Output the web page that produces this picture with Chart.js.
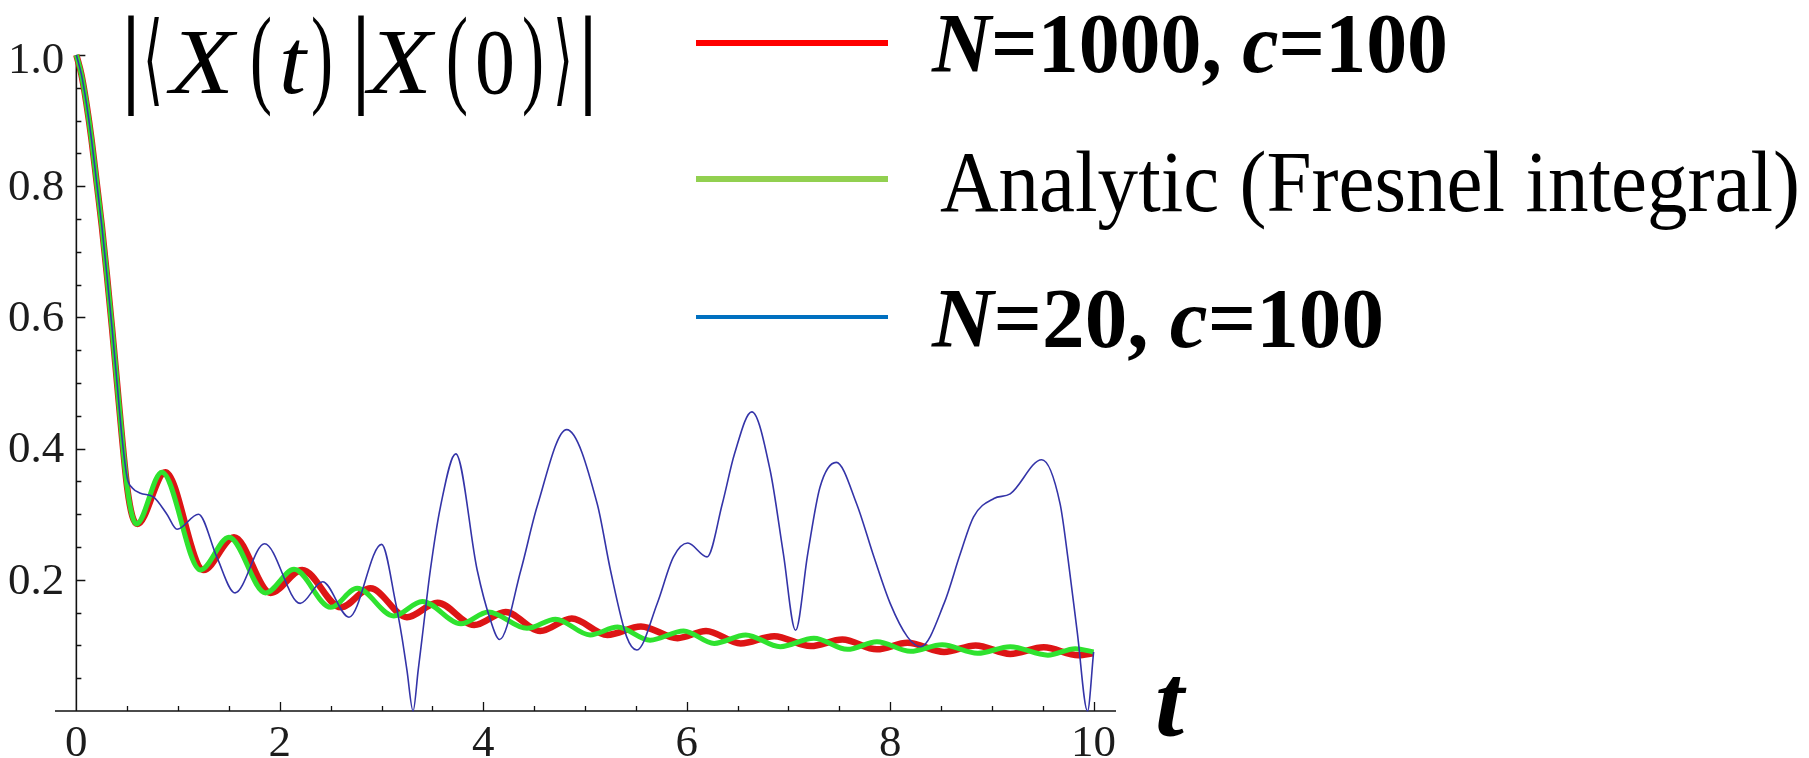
<!DOCTYPE html>
<html>
<head>
<meta charset="utf-8">
<script src="https://cdn.jsdelivr.net/npm/chart.js@4/dist/chart.umd.min.js"></script>
<style>
  html, body { margin: 0; padding: 0; background: #fff; }
  canvas { display: block; }
</style>
</head>
<body>
<canvas id="c" width="1809" height="758"></canvas>
<script>
// Overlap |<X(t)|X(0)>| against time t

// N = 1000, c = 100 (numerical)
const tRed = [0,0.05,0.1,0.15,0.2,0.25,0.3,0.35,0.4,0.45,0.5,0.55,0.60,0.875,1.25,1.55,1.91,2.22,2.60,2.89,3.25,3.55,3.91,4.22,4.56,4.87,5.22,5.55,5.91,6.19,6.53,6.86,7.22,7.53,7.87,8.17,8.53,8.84,9.18,9.51,9.85,10];
const vRed = [1.0,0.97,0.925,0.87,0.805,0.74,0.665,0.585,0.5,0.415,0.34,0.297,0.285,0.364,0.215,0.265,0.18,0.215,0.158,0.187,0.143,0.165,0.131,0.151,0.122,0.141,0.116,0.129,0.111,0.122,0.103,0.114,0.099,0.109,0.094,0.104,0.090,0.100,0.087,0.097,0.085,0.088];

// Analytic result (Fresnel integral)
const tGreen = [0,0.05,0.1,0.15,0.2,0.25,0.3,0.35,0.4,0.45,0.5,0.55,0.59,0.84,1.22,1.50,1.86,2.14,2.50,2.76,3.12,3.40,3.78,4.05,4.43,4.71,5.05,5.32,5.64,5.97,6.27,6.58,6.92,7.25,7.58,7.87,8.20,8.51,8.86,9.18,9.55,9.82,10];
const vGreen = [1.0,0.97,0.925,0.87,0.805,0.74,0.665,0.585,0.5,0.415,0.34,0.297,0.285,0.364,0.215,0.265,0.18,0.216,0.158,0.187,0.145,0.167,0.133,0.151,0.126,0.140,0.116,0.128,0.108,0.122,0.103,0.116,0.098,0.111,0.094,0.1055,0.091,0.101,0.088,0.098,0.085,0.095,0.09];

// N = 20, c = 100 (numerical)
const tBlue = [0,0.05,0.1,0.15,0.2,0.25,0.3,0.35,0.4,0.45,0.5,0.55,0.63,0.76,0.89,0.99,1.20,1.38,1.56,1.85,2.20,2.42,2.68,3.0,3.14,3.20,3.25,3.31,3.36,3.40,3.48,3.58,3.73,3.94,4.07,4.16,4.37,4.53,4.82,5.12,5.25,5.41,5.51,5.71,5.87,6.01,6.20,6.35,6.47,6.64,6.82,6.95,7.07,7.19,7.31,7.47,7.67,7.84,8.0,8.17,8.30,8.53,8.69,8.82,9.02,9.18,9.49,9.67,9.75,9.84,9.94,10];
const vBlue = [1.0,0.97,0.925,0.87,0.805,0.74,0.665,0.585,0.5,0.415,0.355,0.34,0.332,0.326,0.30,0.277,0.30,0.235,0.18,0.255,0.164,0.197,0.143,0.254,0.164,0.113,0.062,0.0,0.062,0.113,0.215,0.312,0.392,0.215,0.139,0.109,0.215,0.312,0.429,0.316,0.215,0.113,0.093,0.164,0.235,0.256,0.235,0.316,0.392,0.456,0.367,0.24,0.123,0.24,0.341,0.379,0.316,0.235,0.164,0.113,0.098,0.164,0.24,0.296,0.324,0.331,0.383,0.316,0.23,0.119,0.0,0.09];

// Axis ticks
const xMajorTicks = [0, 2, 4, 6, 8, 10];
const xTickLabels = ['0', '2', '4', '6', '8', '10'];
const yMajorTicks = [0.2, 0.4, 0.6, 0.8, 1.0];
const yTickLabels = ['0.2', '0.4', '0.6', '0.8', '1.0'];

// Legend entries
const seriesNames = ['N=1000, c=100', 'Analytic (Fresnel integral)', 'N=20, c=100'];

const toPoints = (ts, vs) => ts.map((t, i) => ({ x: t, y: vs[i] }));

const SERIF = '"Liberation Serif", "DejaVu Serif", serif';

// Axes through the origin with inward major/minor ticks
const mathAxes = {
  id: 'mathAxes',
  beforeDatasetsDraw(chart) {
    const { ctx, chartArea, scales: { x, y } } = chart;
    const x0 = x.getPixelForValue(0);
    const y0 = y.getPixelForValue(0);
    ctx.save();
    ctx.strokeStyle = '#111';
    ctx.lineWidth = 1.6;
    ctx.beginPath();
    ctx.moveTo(chartArea.left, y0);
    ctx.lineTo(chartArea.right, y0);
    ctx.moveTo(x0, y0);
    ctx.lineTo(x0, y.getPixelForValue(1));
    ctx.stroke();

    ctx.lineWidth = 1.3;
    ctx.beginPath();
    for (let k = 1; k <= 20; k++) {
      const px = Math.round(x.getPixelForValue(k * 0.5)) + 0.5;
      const len = (k % 4 === 0) ? 9 : 5;
      ctx.moveTo(px, y0);
      ctx.lineTo(px, y0 - len);
    }
    for (let k = 1; k <= 20; k++) {
      const py = Math.round(y.getPixelForValue(k * 0.05)) + 0.5;
      const len = (k % 4 === 0) ? 9 : 5;
      ctx.moveTo(x0, py);
      ctx.lineTo(x0 + len, py);
    }
    ctx.stroke();

    ctx.fillStyle = '#1c1c1c';
    ctx.font = '45px ' + SERIF;
    ctx.textAlign = 'center';
    ctx.textBaseline = 'alphabetic';
    xMajorTicks.forEach((t, i) => {
      ctx.fillText(xTickLabels[i], x.getPixelForValue(t), y0 + 45);
    });
    ctx.textAlign = 'right';
    ctx.textBaseline = 'middle';
    yMajorTicks.forEach((v, i) => {
      const py = Math.max(y.getPixelForValue(v), chartArea.top + 4);
      ctx.fillText(yTickLabels[i], x0 - 12, py + 2);
    });
    ctx.restore();
  }
};

// Draws a sequence of styled text runs squeezed to a given width
function drawRuns(ctx, runs, x, baseline, width) {
  let natural = 0;
  runs.forEach(r => { ctx.font = r.font; natural += ctx.measureText(r.text).width; });
  const sx = width ? width / natural : 1;
  ctx.save();
  ctx.translate(x, baseline);
  ctx.scale(sx, 1);
  let cx = 0;
  runs.forEach(r => {
    ctx.font = r.font;
    ctx.fillText(r.text, cx, 0);
    cx += ctx.measureText(r.text).width;
  });
  ctx.restore();
}

// Split a label so that single-letter variables before '=' are italic
function labelRuns(label, bold, size) {
  const weight = bold ? 'bold ' : '';
  const runs = [];
  const re = /([A-Za-z])(?==)/g;
  let last = 0, m;
  while ((m = re.exec(label)) !== null) {
    if (m.index > last) runs.push({ text: label.slice(last, m.index), font: weight + size + 'px ' + SERIF });
    runs.push({ text: m[1], font: 'italic ' + weight + size + 'px ' + SERIF });
    last = m.index + 1;
  }
  if (last < label.length) runs.push({ text: label.slice(last), font: weight + size + 'px ' + SERIF });
  return runs;
}

const legendLayout = [
  { color: '#ff0000', lineY: 43, lineW: 6, bold: true, size: 84, textX: 932, baseline: 72, width: 516 },
  { color: '#92d050', lineY: 179, lineW: 6, bold: false, size: 86, textX: 940, baseline: 211, width: 860 },
  { color: '#0070c0', lineY: 317, lineW: 4, bold: true, size: 84, textX: 932, baseline: 347, width: 452 }
];

const annotations = {
  id: 'annotations',
  afterDraw(chart) {
    const { ctx } = chart;
    ctx.save();
    ctx.fillStyle = '#000';
    ctx.textAlign = 'left';
    ctx.textBaseline = 'alphabetic';

    // Legend
    legendLayout.forEach((row, i) => {
      ctx.strokeStyle = row.color;
      ctx.lineWidth = row.lineW;
      ctx.beginPath();
      ctx.moveTo(696, row.lineY);
      ctx.lineTo(888, row.lineY);
      ctx.stroke();
      drawRuns(ctx, labelRuns(seriesNames[i], row.bold, row.size), row.textX, row.baseline, row.width);
    });

    // Vertical quantity |<X(t)|X(0)>|
    const up = '110px ' + SERIF;
    const it = 'italic 94px ' + SERIF;
    const ang = '100px "DejaVu Serif", serif';
    const glyphs = [
      ['|', 120, 0, up], ['\u27E8', 143, 20, ang], ['X', 170, 64, it], ['(', 250, 22, up],
      ['t', 279, 27, it], [')', 311, 22, up], ['|', 350, 0, up], ['X', 368, 64, it],
      ['(', 446, 22, up], ['0', 475, 40, '94px ' + SERIF], [')', 522, 22, up],
      ['\u27E9', 553, 20, ang], ['|', 577, 0, up]
    ];
    glyphs.forEach(([ch, gx, gw, font]) => {
      drawRuns(ctx, [{ text: ch, font }], gx, 93, gw || 0);
    });

    // Horizontal axis variable
    ctx.font = 'italic bold 104px ' + SERIF;
    ctx.fillText('t', 1155, 735);
    ctx.restore();
  }
};

new Chart(document.getElementById('c'), {
  type: 'line',
  data: {
    datasets: [
      {
        label: seriesNames[2],
        data: toPoints(tBlue, vBlue),
        borderColor: '#3434a8',
        borderWidth: 1.6,
        order: 0
      },
      {
        label: seriesNames[1],
        data: toPoints(tGreen, vGreen),
        borderColor: '#2fe22f',
        borderWidth: 5,
        order: 1
      },
      {
        label: seriesNames[0],
        data: toPoints(tRed, vRed),
        borderColor: '#dd1515',
        borderWidth: 6.5,
        order: 2
      }
    ]
  },
  options: {
    responsive: false,
    animation: false,
    devicePixelRatio: 1,
    layout: { padding: { left: 55, top: 55, right: 693, bottom: 47 } },
    elements: {
      point: { radius: 0 },
      line: { cubicInterpolationMode: 'monotone', fill: false }
    },
    datasets: { line: { clip: false } },
    scales: {
      x: { type: 'linear', min: -0.21, max: 10.22, display: false },
      y: { type: 'linear', min: 0, max: 1, display: false }
    },
    plugins: {
      legend: { display: false },
      tooltip: { enabled: false }
    }
  },
  plugins: [mathAxes, annotations]
});
</script>
</body>
</html>
